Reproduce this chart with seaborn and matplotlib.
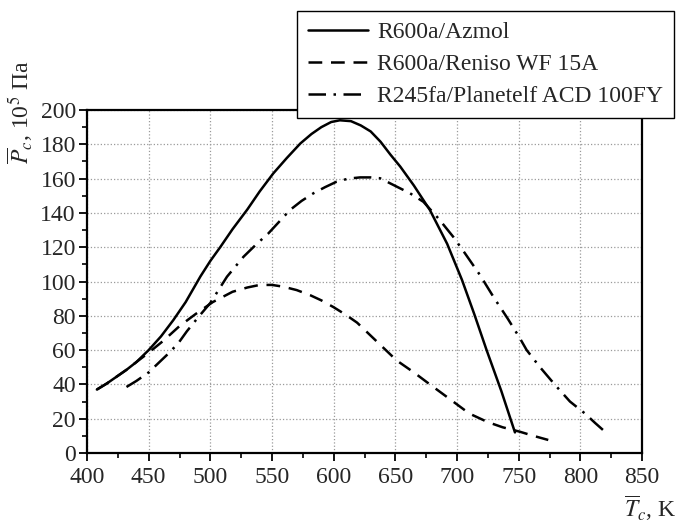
import matplotlib
matplotlib.use("Agg")
import matplotlib.pyplot as plt
from matplotlib.ticker import MultipleLocator
import seaborn as sns

# R600a/Azmol
t_azmol = [408, 416, 424, 432, 440, 450, 460, 470, 480, 492, 500, 508, 518, 530, 540,
           551, 562, 573, 582, 590, 598, 605, 614, 622, 630, 638, 646, 654, 665, 678,
           692, 704, 714, 724, 736, 747]
p_azmol = [37, 40.5, 44.5, 48.5, 53, 60, 68, 77.5, 88, 103, 112, 120, 130.5, 142, 152.5,
           163, 172, 180.5, 186, 190, 193, 194, 193.5, 191, 187.5, 181.5, 174, 167, 156, 141.7,
           122, 101, 81, 60, 36, 12]

# R600a/Reniso WF 15A
t_reniso = [408, 416, 424, 432, 440, 450, 462, 475, 488, 502, 518, 530, 540, 550, 559,
            570, 581, 590, 600, 610, 619, 635, 651, 665, 678, 695, 710, 725, 737, 751,
            762, 774]
p_reniso = [37, 40.5, 44.5, 48.5, 53, 58.5, 65.5, 74, 81, 88, 94, 96.5, 98, 98, 97,
            95, 92, 89, 85, 80.5, 76, 65, 54, 47, 40, 31, 23, 18, 15, 12.4,
            10, 7.6]

# R245fa/Planetelf ACD 100FY
t_planetelf = [432, 440, 450, 458, 466, 474, 481, 490, 500, 513.5, 527, 537, 547, 556,
               564.6, 574, 583.5, 593, 602.4, 612, 621.4, 630, 637.6, 648.4, 662, 672.7,
               684.9, 697, 706.5, 718.6, 730, 741, 751, 756.5, 767, 779.5, 791.6, 803.8,
               812, 820]
p_planetelf = [38.5, 42, 47, 52.5, 58, 64, 71, 79, 87.5, 102.8, 114.5, 121.5, 128, 135,
               141.7, 147, 151.4, 155, 158.2, 160, 160.7, 160.7, 160.2, 156.3, 151.4, 146.5,
               136.8, 126, 116.4, 103.8, 90.5, 78.5, 66.9, 60, 50.3, 39.7, 30, 23,
               17.5, 12.4]

labels = ["R600a/Azmol", "R600a/Reniso WF 15A", "R245fa/Planetelf ACD 100FY"]

sns.set_style("ticks")
plt.rcParams["font.family"] = ["Liberation Serif", "DejaVu Serif"]
plt.rcParams["mathtext.fontset"] = "stix"

fig = plt.figure(figsize=(6.77, 5.27), dpi=100)
ax = fig.add_axes([87 / 677, 1 - 453 / 527, 555 / 677, 343 / 527])

lw = 1.8
sns.lineplot(x=t_azmol, y=p_azmol, ax=ax, color="black", lw=lw, sort=False,
             estimator=None, label=labels[0], linestyle="-")
sns.lineplot(x=t_reniso, y=p_reniso, ax=ax, color="black", lw=lw, sort=False,
             estimator=None, label=labels[1], linestyle=(0, (5.5, 3.5)))
sns.lineplot(x=t_planetelf, y=p_planetelf, ax=ax, color="black", lw=lw, sort=False,
             estimator=None, label=labels[2], linestyle=(0, (7, 3, 1, 3)))

ax.set_xlim(400, 850)
ax.set_ylim(0, 200)
ax.xaxis.set_major_locator(MultipleLocator(50))
ax.xaxis.set_minor_locator(MultipleLocator(25))
ax.yaxis.set_major_locator(MultipleLocator(20))
ax.yaxis.set_minor_locator(MultipleLocator(10))
ax.tick_params(which="major", length=6, width=1.3, labelsize=17, pad=2, color="black")
ax.tick_params(axis="x", which="major", pad=4)
ax.tick_params(which="minor", length=3.5, width=1.2, color="black")
ax.grid(True, which="major", linestyle=":", color="#9a9a9a", lw=0.9)
for s in ax.spines.values():
    s.set_visible(True)
    s.set_linewidth(1.6)
    s.set_color("black")
ax.set_xlabel("")
ax.set_ylabel("")

handles, lbls = ax.get_legend_handles_labels()
ax.get_legend().remove()
leg = fig.legend(handles, lbls, loc="upper right",
                 bbox_to_anchor=(674 / 677, 1 - 11 / 527),
                 fontsize=17, frameon=True, fancybox=False, framealpha=1,
                 edgecolor="black", handlelength=2.55, handletextpad=0.4,
                 labelspacing=0.45, borderpad=0.45, borderaxespad=0)
leg.get_frame().set_linewidth(1.0)

fig.text(20 / 677, 1 - 112 / 527, r"$\overline{P}_c$, 10$^5$ Па", rotation=90,
         ha="center", va="center", fontsize=17)
fig.text(650 / 677, 1 - 517 / 527, r"$\overline{T}_c$, K", ha="center",
         va="baseline", fontsize=17)

fig.savefig("out.png", dpi=100)
